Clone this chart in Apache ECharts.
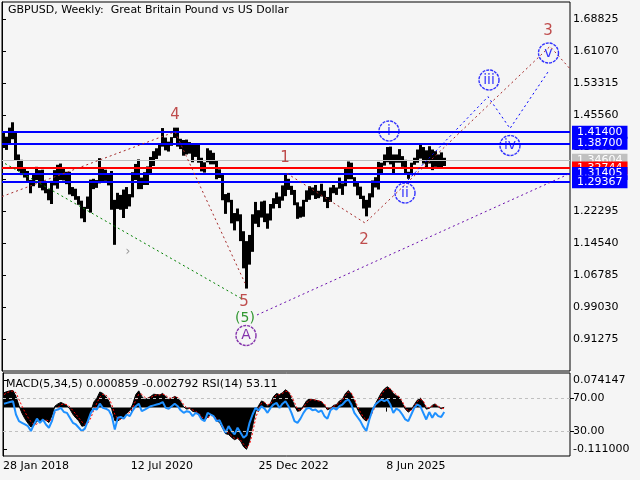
<!DOCTYPE html>
<html>
<head>
<meta charset="utf-8">
<script src="https://cdn.jsdelivr.net/npm/echarts@6/dist/echarts.min.js"></script>
<style>
  html, body { margin: 0; padding: 0; background: #f5f5f5; }
  #chart { width: 640px; height: 480px; }
</style>
</head>
<body>
<div id="chart"></div>
<script>
const FONT = "DejaVu Sans";

// x axis is counted in weeks from 28 Jan 2018, one bar covers 3 weeks
const weeksPerBar = 3;
const dateTickWeeks = [0, 128, 256, 384];
const dateTickLabels = ["28 Jan 2018", "12 Jul 2020", "25 Dec 2022", "8 Jun 2025"];
const priceTicks = [0.91275, 0.99030, 1.06785, 1.14540, 1.22295, 1.30050, 1.37805, 1.45560, 1.53315, 1.61070, 1.68825];
const macdTicks = [0.074147, -0.111000];
const rsiTicks = [30, 70];

// GBPUSD bars (low / high)
const priceLow = [
  1.376, 1.371, 1.385, 1.397, 1.345, 1.320, 1.310, 1.304, 1.296, 1.266,
  1.283, 1.298, 1.279, 1.273, 1.266, 1.249, 1.240, 1.285, 1.277, 1.298,
  1.297, 1.288, 1.263, 1.259, 1.250, 1.238, 1.205, 1.196, 1.228, 1.219,
  1.276, 1.279, 1.290, 1.294, 1.296, 1.285, 1.226, 1.141, 1.228, 1.226,
  1.206, 1.228, 1.234, 1.256, 1.298, 1.276, 1.276, 1.286, 1.286, 1.313,
  1.332, 1.349, 1.357, 1.379, 1.370, 1.367, 1.381, 1.400, 1.379, 1.373,
  1.357, 1.360, 1.362, 1.341, 1.354, 1.340, 1.319, 1.316, 1.341, 1.336,
  1.336, 1.300, 1.303, 1.249, 1.216, 1.244, 1.193, 1.176, 1.198, 1.150,
  1.084, 1.035, 1.093, 1.124, 1.192, 1.184, 1.207, 1.196, 1.180, 1.200,
  1.229, 1.240, 1.230, 1.248, 1.259, 1.274, 1.262, 1.237, 1.204, 1.207,
  1.209, 1.245, 1.250, 1.261, 1.252, 1.254, 1.258, 1.245, 1.230, 1.245,
  1.266, 1.262, 1.277, 1.262, 1.283, 1.300, 1.300, 1.282, 1.261, 1.252,
  1.229, 1.210, 1.231, 1.256, 1.280, 1.275, 1.314, 1.333, 1.341, 1.336,
  1.314, 1.340, 1.340, 1.330, 1.313, 1.301, 1.310, 1.335, 1.340, 1.350,
  1.338, 1.325, 1.338, 1.322, 1.330, 1.328, 1.325, 1.332
];
const priceHigh = [
  1.415, 1.403, 1.425, 1.438, 1.412, 1.360, 1.347, 1.329, 1.320, 1.298,
  1.315, 1.330, 1.322, 1.323, 1.293, 1.276, 1.296, 1.322, 1.335, 1.338,
  1.325, 1.318, 1.318, 1.281, 1.277, 1.259, 1.248, 1.233, 1.258, 1.299,
  1.301, 1.298, 1.351, 1.328, 1.323, 1.315, 1.320, 1.250, 1.267, 1.262,
  1.275, 1.281, 1.264, 1.317, 1.337, 1.348, 1.304, 1.317, 1.331, 1.354,
  1.368, 1.375, 1.387, 1.424, 1.401, 1.391, 1.402, 1.425, 1.425, 1.398,
  1.395, 1.396, 1.390, 1.384, 1.383, 1.383, 1.352, 1.341, 1.375, 1.370,
  1.364, 1.345, 1.324, 1.315, 1.264, 1.267, 1.250, 1.218, 1.229, 1.215,
  1.174, 1.150, 1.165, 1.215, 1.245, 1.225, 1.246, 1.248, 1.217, 1.240,
  1.254, 1.268, 1.258, 1.285, 1.314, 1.301, 1.284, 1.274, 1.244, 1.234,
  1.250, 1.273, 1.283, 1.280, 1.286, 1.272, 1.289, 1.272, 1.257, 1.280,
  1.286, 1.280, 1.304, 1.290, 1.327, 1.343, 1.340, 1.305, 1.293, 1.282,
  1.260, 1.250, 1.266, 1.297, 1.305, 1.342, 1.340, 1.360, 1.378, 1.379,
  1.360, 1.360, 1.373, 1.356, 1.347, 1.318, 1.340, 1.352, 1.372, 1.385,
  1.378, 1.370, 1.380, 1.372, 1.368, 1.360, 1.365, 1.352
];

// MACD(5,34,5) main, signal and RSI(14)
const macdMain = [
  0.040, 0.043, 0.045, 0.046, 0.030, 0.005, -0.015, -0.030, -0.042, -0.052,
  -0.048, -0.036, -0.035, -0.030, -0.034, -0.040, -0.022, 0.004, 0.010, 0.014,
  0.010, 0.006, -0.004, -0.018, -0.028, -0.036, -0.050, -0.048, -0.035, -0.010,
  0.015, 0.025, 0.042, 0.038, 0.030, 0.018, -0.005, -0.035, -0.036, -0.030,
  -0.025, -0.015, -0.008, 0.010, 0.035, 0.045, 0.030, 0.022, 0.025, 0.030,
  0.036, 0.035, 0.034, 0.038, 0.030, 0.022, 0.025, 0.030, 0.026, 0.015,
  0.002, -0.004, -0.002, -0.010, -0.012, -0.018, -0.030, -0.035, -0.025, -0.018,
  -0.022, -0.035, -0.040, -0.055, -0.070, -0.072, -0.080, -0.086, -0.082, -0.090,
  -0.105, -0.112, -0.090, -0.050, -0.012, 0.005, 0.018, 0.014, 0.004, 0.012,
  0.030, 0.038, 0.035, 0.040, 0.048, 0.042, 0.025, 0.005, -0.010, -0.008,
  0.005, 0.018, 0.024, 0.022, 0.020, 0.018, 0.016, 0.006, -0.006, -0.002,
  0.006, 0.008, 0.018, 0.022, 0.038, 0.046, 0.036, 0.018, -0.004, -0.018,
  -0.030, -0.036, -0.026, -0.008, 0.010, 0.025, 0.040, 0.050, 0.056, 0.050,
  0.038, 0.032, 0.028, 0.012, -0.004, -0.012, -0.006, 0.008, 0.020, 0.026,
  0.015, -0.004, -0.002, 0.006, 0.010, 0.002, -0.003, 0.001
];
const macdSignal = [
  0.035, 0.040, 0.043, 0.045, 0.040, 0.022, 0.004, -0.012, -0.026, -0.038,
  -0.046, -0.044, -0.038, -0.034, -0.033, -0.036, -0.032, -0.014, 0.000, 0.008,
  0.010, 0.008, 0.002, -0.008, -0.018, -0.028, -0.038, -0.045, -0.042, -0.028,
  -0.006, 0.012, 0.028, 0.036, 0.034, 0.026, 0.008, -0.018, -0.030, -0.032,
  -0.028, -0.020, -0.012, 0.000, 0.020, 0.036, 0.036, 0.028, 0.025, 0.027,
  0.032, 0.034, 0.034, 0.036, 0.033, 0.026, 0.025, 0.028, 0.027, 0.020,
  0.008, 0.000, -0.002, -0.006, -0.010, -0.015, -0.024, -0.032, -0.028, -0.022,
  -0.021, -0.030, -0.037, -0.048, -0.062, -0.068, -0.076, -0.082, -0.082, -0.087,
  -0.098, -0.108, -0.098, -0.068, -0.030, -0.004, 0.012, 0.014, 0.008, 0.010,
  0.022, 0.034, 0.035, 0.038, 0.044, 0.043, 0.032, 0.014, -0.004, -0.007,
  0.000, 0.012, 0.020, 0.022, 0.020, 0.018, 0.016, 0.010, -0.002, -0.003,
  0.003, 0.007, 0.014, 0.020, 0.032, 0.042, 0.039, 0.024, 0.004, -0.012,
  -0.025, -0.033, -0.029, -0.014, 0.004, 0.019, 0.034, 0.046, 0.053, 0.051,
  0.042, 0.035, 0.029, 0.017, 0.001, -0.009, -0.007, 0.004, 0.016, 0.023,
  0.018, 0.002, -0.001, 0.004, 0.008, 0.004, -0.001, -0.003
];
const rsiValues = [
  63, 64, 65, 66, 50, 42, 40, 38, 36, 30,
  38, 45, 40, 44, 38, 34, 42, 55, 56, 58,
  53, 52, 46, 40, 38, 34, 30, 33, 42, 52,
  57, 56, 63, 58, 57, 55, 48, 32, 46, 47,
  45, 50, 48, 55, 60, 63, 54, 56, 58, 60,
  61, 62, 63, 65, 58, 57, 60, 63, 60, 55,
  52, 54, 53, 48, 52, 50, 44, 42, 52, 50,
  48, 42, 43, 35, 28, 36, 30, 26, 34, 28,
  22, 25, 40, 50, 58, 55, 60, 57, 52, 58,
  62, 64, 58, 63, 66, 60, 52, 42, 40, 45,
  52, 57, 58, 55, 56, 53, 55, 48, 45, 55,
  58, 56, 60, 62, 66, 68, 62, 52, 47, 42,
  35, 30, 44, 55, 62, 65, 68, 66, 68, 62,
  52, 57, 55, 50, 44, 42, 50, 58, 62, 60,
  52, 44, 53, 46, 52, 48, 47, 53
];

// horizontal levels
const blueLevels = [1.41400, 1.38700, 1.31405, 1.29367];
const redLevel = 1.32744;
const grayLevel = 1.34604;

// wave lines [week, price]
const brownWave = [[0, 1.258], [173, 1.415], [243, 1.048]];
const brownWave12 = [[285, 1.314], [363, 1.194], [548, 1.622], [580, 1.535]];
const greenWave = [[3, 1.338], [240, 1.010]];
const purpleWave = [[255, 0.971], [568, 1.314]];
const blueWave = [[406, 1.298], [486, 1.500], [508, 1.423], [546, 1.560]];

// wave labels [text, week, price]
const brownLabels = [["4", 173, 1.4556], ["1", 283, 1.3514], ["2", 362, 1.1527], ["3", 546, 1.6592], ["5", 242, 1.0024]];
const greenLabels = [["(5)", 243, 0.9637]];
const purpleLabels = [["A", 244, 0.9212]];
const blueLabels = [["i", 387, 1.4169], ["ii", 403, 1.2666], ["iii", 487, 1.5405], ["iv", 508, 1.3817], ["v", 546.5, 1.6059]];
const grayMarks = [["›", 126, 1.1236]];

const chart = echarts.init(document.getElementById("chart"));

function levelSeries(levels, color, width, z) {
  return {
    type: "line",
    xAxisIndex: 0,
    yAxisIndex: 0,
    data: [],
    z: z,
    markLine: {
      silent: true,
      symbol: "none",
      z: z,
      precision: 5,
      animation: false,
      lineStyle: { color: color, width: width, type: "solid" },
      label: {
        show: true,
        position: "end",
        distance: 2,
        formatter: "{b}",
        color: "#ffffff",
        backgroundColor: color,
        padding: [1, 5, 0, 5],
        fontFamily: FONT,
        fontSize: 11,
        lineHeight: 12
      },
      emphasis: { disabled: true },
      data: levels.map(v => ({ yAxis: v, name: v.toFixed(5) }))
    }
  };
}

function waveLine(points, color) {
  return {
    type: "line",
    xAxisIndex: 0,
    yAxisIndex: 0,
    data: points,
    showSymbol: false,
    silent: true,
    z: 8,
    lineStyle: { color: color, width: 1, type: [2, 3] }
  };
}

function waveLabels(items, color, circled, size) {
  return {
    type: "scatter",
    xAxisIndex: 0,
    yAxisIndex: 0,
    silent: true,
    z: 9,
    symbol: "circle",
    symbolSize: circled ? 20 : 1,
    itemStyle: circled
      ? { color: "rgba(0,0,0,0)", borderColor: color, borderWidth: 1.4, borderType: [3, 1] }
      : { color: "rgba(0,0,0,0)" },
    label: {
      show: true,
      position: "inside",
      formatter: p => p.data[2],
      color: color,
      fontFamily: FONT,
      fontSize: size
    },
    data: items.map(d => [d[1], d[2], d[0]])
  };
}

const axisText = { color: "#000", fontFamily: FONT, fontSize: 11 };

chart.setOption({
  animation: false,
  backgroundColor: "#f5f5f5",
  graphic: [
    { type: "text", left: 8, top: 5, style: { text: "GBPUSD, Weekly:  Great Britain Pound vs US Dollar", fill: "#000", font: "11px " + FONT } },
    { type: "text", left: 6, top: 379, z: 20, style: { text: "MACD(5,34,5) 0.000859 -0.002792 RSI(14) 53.11", fill: "#000", font: "11px " + FONT } }
  ],
  grid: [
    { left: 2, top: 2, width: 568, height: 369, show: true, borderColor: "#000", borderWidth: 1, backgroundColor: "#f5f5f5" },
    { left: 2, top: 373, width: 568, height: 83, show: true, borderColor: "#000", borderWidth: 1, backgroundColor: "#f5f5f5" }
  ],
  xAxis: [
    { type: "value", gridIndex: 0, min: 0, max: 568, show: false },
    {
      type: "value", gridIndex: 1, min: 0, max: 568,
      axisLine: { show: false },
      splitLine: { show: false },
      axisTick: { show: true, customValues: dateTickWeeks, length: 4, lineStyle: { color: "#000" } },
      axisLabel: Object.assign({
        customValues: dateTickWeeks,
        align: "left",
        margin: 5,
        formatter: v => dateTickLabels[dateTickWeeks.indexOf(v)] || ""
      }, axisText)
    }
  ],
  yAxis: [
    {
      type: "value", gridIndex: 0, position: "right", min: 0.8352, max: 1.7295,
      axisLine: { show: true, lineStyle: { color: "#000" } },
      splitLine: { show: false },
      axisTick: { show: true, customValues: priceTicks, length: 4, lineStyle: { color: "#000" } },
      axisLabel: Object.assign({ customValues: priceTicks, margin: 3, formatter: v => v.toFixed(5) }, axisText)
    },
    {
      type: "value", gridIndex: 1, position: "right", min: -0.1298, max: 0.0929,
      axisLine: { show: true, lineStyle: { color: "#000" } },
      splitLine: { show: false },
      axisTick: { show: true, customValues: macdTicks, length: 4, lineStyle: { color: "#000" } },
      axisLabel: Object.assign({ customValues: macdTicks, margin: 3, formatter: v => v.toFixed(6) }, axisText)
    },
    {
      type: "value", gridIndex: 1, position: "right", min: 0, max: 100,
      axisLine: { show: false },
      splitLine: { show: false },
      axisTick: { show: true, customValues: rsiTicks, length: 4, lineStyle: { color: "#000" } },
      axisLabel: Object.assign({ customValues: rsiTicks, margin: 3, formatter: v => v.toFixed(2) }, axisText)
    }
  ],
  series: [
    {
      type: "custom",
      xAxisIndex: 0,
      yAxisIndex: 0,
      z: 2,
      silent: true,
      encode: { x: 0, y: [1, 2] },
      data: priceLow.map((lo, i) => [i * weeksPerBar, lo, priceHigh[i]]),
      renderItem: function (params, api) {
        const w = api.value(0);
        const top = api.coord([w, api.value(2)]);
        const bot = api.coord([w + weeksPerBar, api.value(1)]);
        return {
          type: "rect",
          shape: { x: top[0], y: top[1], width: bot[0] - top[0], height: Math.max(1, bot[1] - top[1]) },
          style: { fill: "#000" }
        };
      }
    },
    levelSeries([grayLevel], "#c0c0c0", 1, 5),
    levelSeries([redLevel], "#ff0000", 2, 6),
    levelSeries(blueLevels.slice(0, 2), "#0000ff", 2, 7),
    levelSeries(blueLevels.slice(2), "#0000ff", 2, 7),
    waveLine(brownWave, "#a52a2a"),
    waveLine(brownWave12, "#a52a2a"),
    waveLine(greenWave, "#008000"),
    waveLine(purpleWave, "#6a0dad"),
    waveLine(blueWave, "#0000ff"),
    waveLabels(brownLabels, "#b22222", false, 15),
    waveLabels(greenLabels, "#008000", false, 14),
    waveLabels(purpleLabels, "#660099", true, 14),
    waveLabels(blueLabels, "#0000ff", true, 14),
    waveLabels(grayMarks, "#808080", false, 12),
    {
      type: "line",
      xAxisIndex: 1,
      yAxisIndex: 1,
      z: 2,
      silent: true,
      showSymbol: false,
      data: macdMain.map((v, i) => [i * weeksPerBar + 1, v]),
      lineStyle: { color: "#000", width: 1 },
      areaStyle: { color: "#000", origin: 0, opacity: 1 }
    },
    {
      type: "line",
      xAxisIndex: 1,
      yAxisIndex: 1,
      z: 3,
      silent: true,
      showSymbol: false,
      data: macdSignal.map((v, i) => [i * weeksPerBar + 1, v]),
      lineStyle: { color: "#ff0000", width: 1, type: [2, 2] }
    },
    {
      type: "line",
      xAxisIndex: 1,
      yAxisIndex: 2,
      z: 4,
      silent: true,
      showSymbol: false,
      data: rsiValues.map((v, i) => [i * weeksPerBar + 1, v]),
      lineStyle: { color: "#1e90ff", width: 2 },
      markLine: {
        silent: true,
        symbol: "none",
        label: { show: false },
        lineStyle: { color: "#c0c0c0", width: 1, type: [3, 3] },
        data: rsiTicks.map(v => ({ yAxis: v }))
      }
    }
  ]
});
</script>
</body>
</html>
